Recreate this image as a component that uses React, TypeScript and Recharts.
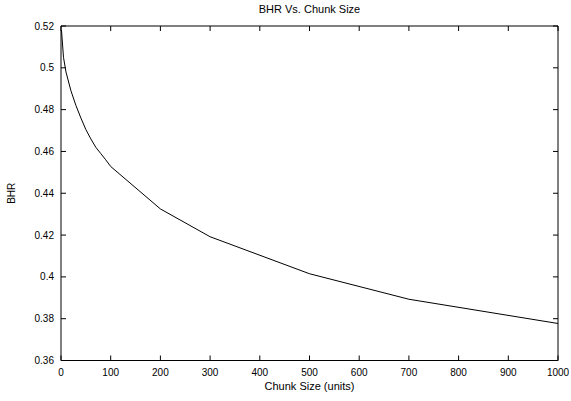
import { LineChart, Line, XAxis, YAxis } from "recharts";

// BHR vs chunk size
const chunkSizes = [1, 5, 10, 20, 30, 40, 50, 60, 70, 80, 90, 100, 200, 300, 500, 700, 1000];
const bhrValues = [0.518, 0.505, 0.498, 0.489, 0.482, 0.476, 0.4705, 0.466, 0.462, 0.459, 0.456, 0.4528, 0.4325, 0.4192, 0.4015, 0.3893, 0.3777];

const xTicks = [0, 100, 200, 300, 400, 500, 600, 700, 800, 900, 1000];
const yTicks = [0.36, 0.38, 0.4, 0.42, 0.44, 0.46, 0.48, 0.5, 0.52];

const data = chunkSizes.map((c, i) => ({ chunk: c, bhr: bhrValues[i] }));

const FONT = "'Liberation Sans', Arial, sans-serif";

// mirrored axes: keep tick marks, drop the labels
const NoLabel = () => <g />;

const App = () => {
  return (
    <div style={{ fontFamily: FONT }}>
      <style>{"body{margin:0}"}</style>
      <LineChart
        width={571}
        height={401}
        data={data}
        margin={{ top: 25, right: 12, bottom: 0.5, left: 0 }}
      >
        <XAxis
          xAxisId="bottom"
          dataKey="chunk"
          type="number"
          domain={[0, 1000]}
          ticks={xTicks}
          height={40}
          tickSize={-5}
          tickMargin={13.5}
          stroke="#000"
          tick={{ fill: "#000", fontSize: 10, fontFamily: FONT }}
          label={{
            value: "Chunk Size (units)",
            position: "insideBottom",
            offset: 10.5,
            fill: "#000",
            fontSize: 11,
            fontFamily: FONT,
          }}
        />
        <XAxis
          xAxisId="top"
          orientation="top"
          dataKey="chunk"
          type="number"
          domain={[0, 1000]}
          ticks={xTicks}
          height={1}
          tickSize={-5}
          tick={NoLabel}
          stroke="#000"
          label={{
            value: "BHR Vs. Chunk Size",
            position: "top",
            offset: 12,
            fill: "#000",
            fontSize: 11,
            fontFamily: FONT,
          }}
        />
        <YAxis
          yAxisId="left"
          type="number"
          domain={[0.36, 0.52]}
          ticks={yTicks}
          width={61}
          tickSize={-5}
          tickMargin={12}
          stroke="#000"
          tick={{ fill: "#000", fontSize: 10, fontFamily: FONT }}
          label={{
            value: "BHR",
            angle: -90,
            position: "insideLeft",
            offset: 11,
            fill: "#000",
            fontSize: 10,
            fontFamily: FONT,
            style: { textAnchor: "middle" },
          }}
        />
        <YAxis
          yAxisId="right"
          orientation="right"
          type="number"
          domain={[0.36, 0.52]}
          ticks={yTicks}
          width={1}
          tickSize={-5}
          tick={NoLabel}
          stroke="#000"
        />
        <Line
          xAxisId="top"
          yAxisId="right"
          type="linear"
          dataKey="bhr"
          stroke="none"
          dot={false}
          activeDot={false}
          isAnimationActive={false}
        />
        <Line
          xAxisId="bottom"
          yAxisId="left"
          type="linear"
          dataKey="bhr"
          stroke="#000"
          strokeWidth={1}
          dot={false}
          isAnimationActive={false}
        />
      </LineChart>
    </div>
  );
};

export default App;
